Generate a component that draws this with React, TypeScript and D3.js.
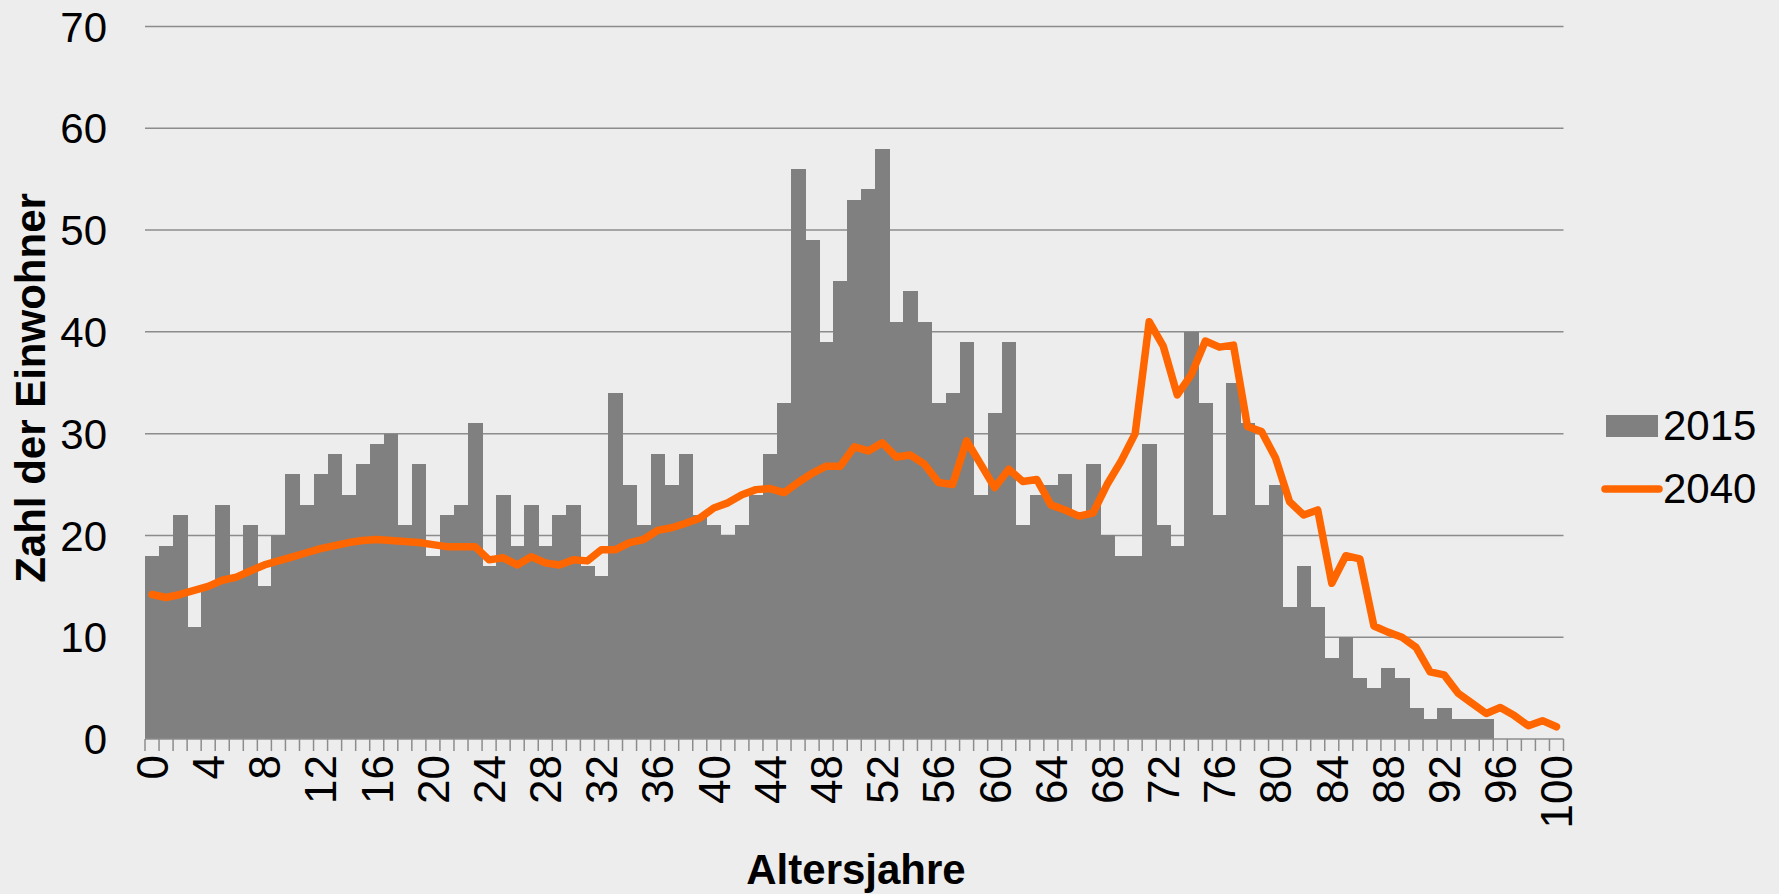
import React from 'react';
import * as d3 from 'd3';

// Altersjahre 0..100
const ages = d3.range(0, 101).map(String);

// Einwohner 2015 (Balken), Alter 0..95
const pop2015 = [
  18, 19, 22, 11, 15, 23, 16, 21, 15, 20,
  26, 23, 26, 28, 24, 27, 29, 30, 21, 27,
  18, 22, 23, 31, 17, 24, 19, 23, 19, 22,
  23, 17, 16, 34, 25, 21, 28, 25, 28, 22,
  21, 20, 21, 24, 28, 33, 56, 49, 39, 45,
  53, 54, 58, 41, 44, 41, 33, 34, 39, 24,
  32, 39, 21, 24, 25, 26, 22, 27, 20, 18,
  18, 29, 21, 19, 40, 33, 22, 35, 31, 23,
  25, 13, 17, 13, 8, 10, 6, 5, 7, 6,
  3, 2, 3, 2, 2, 2,
];

// Prognose 2040 (Linie), Alter 0..100
const pop2040 = [
  14.2, 13.9, 14.2, 14.6, 15.0, 15.6, 15.9, 16.5, 17.1, 17.5,
  17.9, 18.3, 18.7, 19.0, 19.3, 19.5, 19.6, 19.5, 19.4, 19.3,
  19.1, 18.9, 18.9, 18.9, 17.6, 17.8, 17.1, 17.9, 17.3, 17.1,
  17.6, 17.5, 18.6, 18.6, 19.3, 19.6, 20.5, 20.75, 21.2, 21.7,
  22.7, 23.2, 24.0, 24.5, 24.6, 24.2, 25.2, 26.1, 26.8, 26.8,
  28.7, 28.3, 29.1, 27.7, 27.9, 27.0, 25.2, 25.0, 29.3, 27.0,
  24.7, 26.5, 25.3, 25.5, 23.0, 22.5, 21.9, 22.2, 25.0, 27.3,
  30.0, 41.0, 38.6, 33.8, 35.8, 39.1, 38.5, 38.7, 30.7, 30.2,
  27.6, 23.3, 22.0, 22.5, 15.3, 18.0, 17.7, 11.1, 10.5, 10.0,
  9.0, 6.6, 6.3, 4.5, 3.5, 2.5, 3.1, 2.3, 1.3, 1.8, 1.2,
];

const yTicks = [0, 10, 20, 30, 40, 50, 60, 70];
const xLabels = ages.filter((a) => +a % 4 === 0);
const seriesNames = ['2015', '2040'];

const W = 1779;
const H = 894;
const FONT = '"Liberation Sans", Arial, Helvetica, sans-serif';
const BG = '#ededed';
const BAR = '#808080';
const LINE = '#ff6600';
const GRID = '#8c8c8c';

const App: React.FC = () => {
  const x = d3.scaleBand<string>().domain(ages).range([145, 1563.5]).padding(0);
  const y = d3.scaleLinear().domain([0, 70]).range([739, 26.5]);
  const bw = x.bandwidth();

  const line = d3
    .line<number>()
    .x((_, i) => x(ages[i])! + bw / 2)
    .y((d) => y(d));

  const boundaries = ages.map((a) => x(a)!).concat([x.range()[1]]);

  return (
    <svg
      width={W}
      height={H}
      style={{ position: 'absolute', left: 0, top: 0, display: 'block' }}
      fontFamily={FONT}
    >
      <rect x={0} y={0} width={W} height={H} fill={BG} />

      {/* gridlines */}
      {yTicks.slice(1).map((t) => (
        <line key={t} x1={x.range()[0]} x2={x.range()[1]} y1={y(t)} y2={y(t)} stroke={GRID} strokeWidth={1.5} />
      ))}

      {/* bars 2015 */}
      <g shapeRendering="crispEdges">
        {pop2015.map((v, i) => (
          <rect key={i} x={x(ages[i])} y={y(v)} width={bw + 0.5} height={y(0) - y(v)} fill={BAR} />
        ))}
      </g>

      {/* x axis */}
      <line x1={x.range()[0]} x2={x.range()[1]} y1={y(0)} y2={y(0)} stroke={GRID} strokeWidth={1.5} />
      {boundaries.map((bx, i) => (
        <line key={i} x1={bx} x2={bx} y1={y(0)} y2={y(0) + 12} stroke={GRID} strokeWidth={1.5} />
      ))}

      {/* line 2040 */}
      <path
        d={line(pop2040)!}
        fill="none"
        stroke={LINE}
        strokeWidth={7.5}
        strokeLinejoin="round"
        strokeLinecap="round"
      />

      {/* y tick labels */}
      {yTicks.map((t) => (
        <text key={t} x={107} y={y(t)} dy="0.36em" textAnchor="end" fontSize={42} fill="#000">
          {t}
        </text>
      ))}

      {/* x tick labels */}
      {xLabels.map((a) => (
        <text
          key={a}
          transform={`translate(${x(a)! + bw / 2},755) rotate(-90)`}
          dy="0.36em"
          textAnchor="end"
          fontSize={44}
          fill="#000"
        >
          {a}
        </text>
      ))}

      {/* axis titles */}
      <text transform="translate(45,388) rotate(-90)" textAnchor="middle" fontSize={42} fontWeight="bold">
        Zahl der Einwohner
      </text>
      <text x={856} y={884} textAnchor="middle" fontSize={42} fontWeight="bold">
        Altersjahre
      </text>

      {/* legend */}
      <rect x={1606} y={415} width={52} height={22} fill={BAR} />
      <text x={1663} y={440} fontSize={42}>
        {seriesNames[0]}
      </text>
      <line x1={1605} x2={1659} y1={489} y2={489} stroke={LINE} strokeWidth={7.5} strokeLinecap="round" />
      <text x={1663} y={503} fontSize={42}>
        {seriesNames[1]}
      </text>
    </svg>
  );
};

export default App;
